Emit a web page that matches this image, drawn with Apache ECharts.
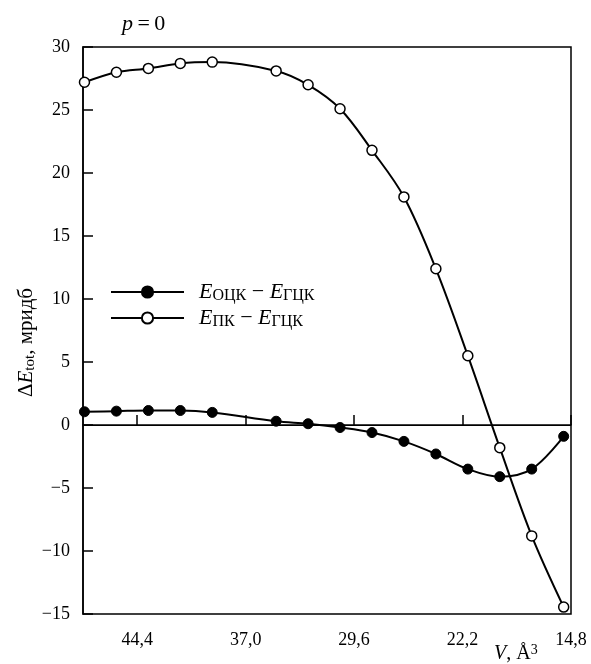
<!DOCTYPE html>
<html>
<head>
<meta charset="utf-8">
<script src="https://cdn.jsdelivr.net/npm/echarts@6/dist/echarts.min.js"></script>
<style>
  html, body { margin: 0; padding: 0; background: #fff; }
  #chart { width: 591px; height: 664px; }
</style>
</head>
<body>
<div id="chart"></div>
<script>
// Volume per atom, Å^3 (axis runs from large to small volume)
const volume = [48.0, 45.82, 43.64, 41.46, 39.28, 34.92, 32.74, 30.56, 28.38, 26.20, 24.02, 21.84, 19.66, 17.48, 15.30];
// Energy differences, mRy
const bccMinusFcc = [1.05, 1.1, 1.15, 1.15, 1.0, 0.3, 0.1, -0.2, -0.6, -1.3, -2.3, -3.5, -4.1, -3.5, -0.9];
const scMinusFcc = [27.2, 28.0, 28.3, 28.7, 28.8, 28.1, 27.0, 25.1, 21.8, 18.1, 12.4, 5.5, -1.8, -8.8, -14.45];
// Axis ticks
const xTicks = [14.8, 22.2, 29.6, 37.0, 44.4];
const yTicks = [-15, -10, -5, 0, 5, 10, 15, 20, 25, 30];
const seriesNames = ['EОЦК − EГЦК', 'EПК − EГЦК'];
const legendRich = {
  'EОЦК − EГЦК': '{i|E}{s|ОЦК}{n| − }{i|E}{s|ГЦК}',
  'EПК − EГЦК': '{i|E}{s|ПК}{n| − }{i|E}{s|ГЦК}'
};

const FONT = '"Liberation Serif", "DejaVu Serif", serif';
function richSet(big, small) {
  return {
    i: { fontFamily: FONT, fontStyle: 'italic', fontWeight: 'normal', fontSize: big, lineHeight: big + 2, color: '#000' },
    n: { fontFamily: FONT, fontWeight: 'normal', fontSize: big, lineHeight: big + 2, color: '#000' },
    s: { fontFamily: FONT, fontWeight: 'normal', fontSize: small, lineHeight: small, verticalAlign: 'bottom', color: '#000' },
    sup: { fontFamily: FONT, fontWeight: 'normal', fontSize: small, lineHeight: small, verticalAlign: 'top', color: '#000' }
  };
}

const pairs = arr => volume.map((v, k) => [v, arr[k]]);
const fmtMinus = v => String(v).replace('-', '\u2212');

const chart = echarts.init(document.getElementById('chart'), null, { renderer: 'canvas' });
chart.setOption({
  animation: false,
  backgroundColor: '#fff',
  title: {
    text: '{i|p}{n|\u2009=\u20090}',
    left: 117, top: 7,
    textStyle: { fontWeight: 'normal', rich: richSet(22, 15) }
  },
  legend: {
    orient: 'vertical',
    left: 110, top: 281,
    padding: 0,
    itemWidth: 73, itemHeight: 14, itemGap: 3,
    data: seriesNames,
    formatter: name => legendRich[name],
    textStyle: { rich: richSet(22, 16), padding: [0, 0, 0, 10] }
  },
  grid: {
    left: 83, right: 20, top: 47, bottom: 50,
    show: true, borderColor: '#000', borderWidth: 1.5
  },
  xAxis: {
    type: 'value',
    inverse: true,
    min: 14.8, max: 48.1, interval: 7.4,
    axisLine: { show: true, lineStyle: { color: '#000', width: 1.5 } },
    axisTick: { show: true, inside: true, length: 10, lineStyle: { color: '#000', width: 1.5 } },
    splitLine: { show: false },
    axisLabel: {
      showMaxLabel: false, showMinLabel: true,
      margin: 17, color: '#000', fontFamily: FONT, fontSize: 18,
      formatter: v => {
        const t = xTicks.find(x => Math.abs(x - v) < 1e-6);
        return t === undefined ? '' : t.toFixed(1).replace('.', ',');
      }
    }
  },
  yAxis: {
    type: 'value',
    min: yTicks[0], max: yTicks[yTicks.length - 1], interval: 5,
    axisLine: { show: true, lineStyle: { color: '#000', width: 1.5 } },
    axisTick: { show: true, inside: true, length: 10, lineStyle: { color: '#000', width: 1.5 } },
    splitLine: { show: false },
    axisLabel: { margin: 13, color: '#000', fontFamily: FONT, fontSize: 18, formatter: fmtMinus },
    name: '{n|Δ}{i|E}{s|tot}{n|, мридб}',
    nameLocation: 'middle',
    nameRotate: 90,
    nameGap: 45,
    nameMoveOverlap: false,
    nameTextStyle: { rich: richSet(21, 15), padding: [0, 24, 0, 0] }
  },
  graphic: [{
    type: 'text',
    left: 494, top: 643,
    style: { text: '{i|V}{n|, Å}{sup|3}', rich: richSet(20, 14) }
  }],
  series: [{
    name: seriesNames[0],
    type: 'line',
    data: pairs(bccMinusFcc),
    smooth: 0.35,
    symbol: 'circle', symbolSize: 10,
    lineStyle: { color: '#000', width: 2 },
    itemStyle: { color: '#000', borderColor: '#000', borderWidth: 1 },
    z: 3,
    markLine: {
      silent: true, symbol: 'none',
      label: { show: false },
      lineStyle: { color: '#000', width: 1.2, type: 'solid' },
      data: [{ yAxis: 0 }]
    }
  }, {
    name: seriesNames[1],
    type: 'line',
    data: pairs(scMinusFcc),
    smooth: 0.35,
    symbol: 'circle', symbolSize: 10,
    lineStyle: { color: '#000', width: 2 },
    itemStyle: { color: '#fff', borderColor: '#000', borderWidth: 1.5 },
    z: 4
  }]
});
</script>
</body>
</html>
